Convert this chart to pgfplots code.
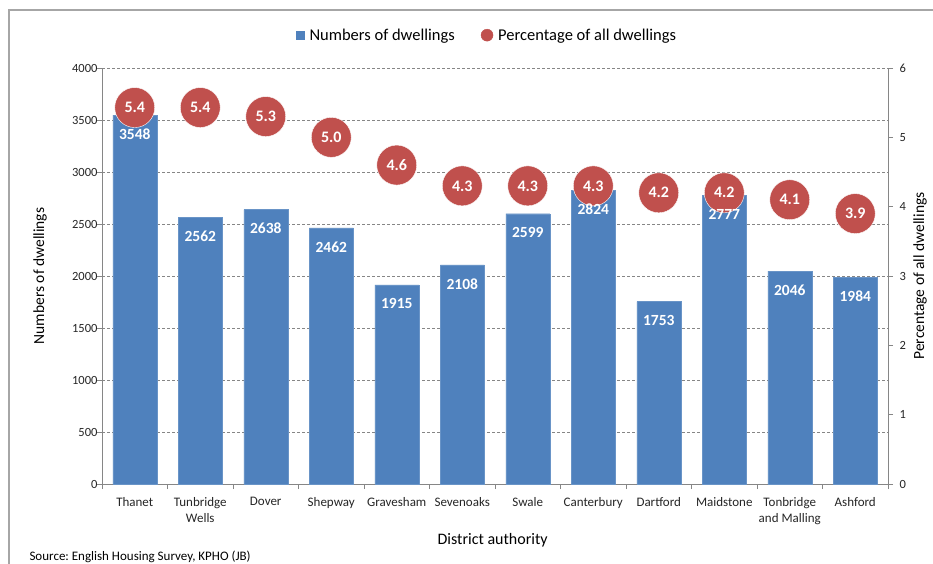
\documentclass[border=0pt]{standalone}
\usepackage{pgfplots}
\pgfplotsset{compat=1.18}
\usepackage{fontspec}
\setmainfont{Carlito}
\frenchspacing
\definecolor{barblue}{HTML}{4F81BD}
\definecolor{circred}{HTML}{C0504D}
\definecolor{axgray}{HTML}{868686}
\definecolor{framegray}{HTML}{A6A6A6}
\pgfplotsset{/pgf/number format/assume math mode=true, /pgf/number format/1000 sep={}}
\begin{document}
\begin{tikzpicture}
\clip (0bp,0bp) rectangle (933bp,-564bp);
\useasboundingbox (0bp,0bp) rectangle (933bp,-564bp);
\fill[white] (0bp,0bp) rectangle (933bp,-564bp);
\draw[framegray, line width=1.5bp] (9bp,-600bp) -- (9bp,-10bp) -- (1000bp,-10bp);
\begin{axis}[
  at={(102bp,-484bp)}, anchor=south west, scale only axis,
  width=786bp, height=416bp,
  xmin=-0.5, xmax=11.5, ymin=0, ymax=4000,
  ytick={0,500,...,4000},
  xtick={0,...,11},
  xticklabels={Thanet, Tunbridge\\Wells, Dover, Shepway, Gravesham, Sevenoaks, Swale, Canterbury, Dartford, Maidstone, Tonbridge\\and Malling, Ashford},
  xticklabel style={align=center, font=\fontsize{13bp}{15.5bp}\selectfont, text=black!85, yshift=-5bp},
  yticklabel style={font=\fontsize{12.5bp}{14bp}\selectfont, text=black!85, xshift=4bp},
  major x tick style={draw=none},
  minor xtick={-0.5,0.5,...,11.5},
  tick align=outside, major tick length=5bp, minor tick length=5bp,
  axis x line*=bottom, axis y line*=left,
  ymajorgrids, grid style={axgray, dash pattern=on 3bp off 2bp, line width=0.5bp},
  axis line style={axgray, line width=0.8bp, -},
  tick style={axgray, line width=0.8bp},
  every axis y label/.style={at={(axis description cs:-0.0789,0.5)}, rotate=90, anchor=center, font=\fontsize{15.5bp}{18bp}\selectfont},
  ylabel={Numbers of dwellings},
  every axis x label/.style={at={(axis description cs:0.497,-0.1346)}, anchor=center, font=\fontsize{16bp}{18bp}\selectfont},
  xlabel={District authority},
]
\addplot[ybar, bar width=44bp, fill=barblue, draw=barblue!85!white] coordinates {
(0,3548) (1,2562) (2,2638) (3,2462) (4,1915) (5,2108) (6,2599) (7,2824) (8,1753) (9,2777) (10,2046) (11,1984)};
\end{axis}
\begin{axis}[
  at={(102bp,-484bp)}, anchor=south west, scale only axis,
  width=786bp, height=416bp,
  xmin=-0.5, xmax=11.5, ymin=0, ymax=6,
  ytick={0,...,6},
  axis y line*=right, axis x line=none,
  yticklabel style={font=\fontsize{12.5bp}{14bp}\selectfont, text=black!85, xshift=3bp},
  tick align=outside, major tick length=5bp,
  axis line style={axgray, line width=0.8bp, -},
  tick style={axgray, line width=0.8bp},
  every axis y label/.style={at={(axis description cs:1.0407,0.5)}, rotate=90, anchor=center, font=\fontsize{15.5bp}{18bp}\selectfont},
  ylabel={Percentage of all dwellings},
  legend columns=2,
  legend style={at={(axis description cs:0.49,1.079)}, anchor=center, draw=none, fill=none,
    font=\fontsize{16.5bp}{19bp}\selectfont,
    /tikz/every even column/.append style={column sep=24bp},
    /tikz/every odd column/.append style={column sep=3bp}},
]
\addlegendimage{legend image code/.code={\fill[barblue] (0bp,-4bp) rectangle (8bp,4bp);}}
\addlegendentry{Numbers of dwellings}
\addplot[only marks, mark=*, mark size=20bp, color=circred, mark options={draw=white, line width=0.4bp},
  nodes near coords={\pgfmathprintnumber[fixed,fixed zerofill,precision=1]{\pgfplotspointmeta}}, point meta=y,
  every node near coord/.style={anchor=center, text=white, font=\bfseries\fontsize{16bp}{18bp}\selectfont},
  legend image code/.code={\fill[circred] (5bp,0bp) circle (6bp);}] coordinates {
(0,5.43) (1,5.43) (2,5.3) (3,5.0) (4,4.6) (5,4.3) (6,4.3) (7,4.3) (8,4.2) (9,4.2) (10,4.1) (11,3.9)};
\addlegendentry{Percentage of all dwellings}
\end{axis}
\begin{axis}[
  at={(102bp,-484bp)}, anchor=south west, scale only axis,
  width=786bp, height=416bp,
  xmin=-0.5, xmax=11.5, ymin=0, ymax=4000,
  hide axis,
]
\addplot[draw=none, mark=none, nodes near coords, point meta=y,
  every node near coord/.style={anchor=center, yshift=-19bp, text=white, font=\bfseries\fontsize{15.5bp}{17bp}\selectfont}] coordinates {
(0,3548) (1,2562) (2,2638) (3,2462) (4,1915) (5,2108) (6,2599) (7,2824) (8,1753) (9,2777) (10,2046) (11,1984)};
\end{axis}
\node[anchor=west, font=\fontsize{13bp}{15bp}\selectfont] at (26bp,-557bp) {Source: English Housing Survey, KPHO (JB)};
\end{tikzpicture}
\end{document}
